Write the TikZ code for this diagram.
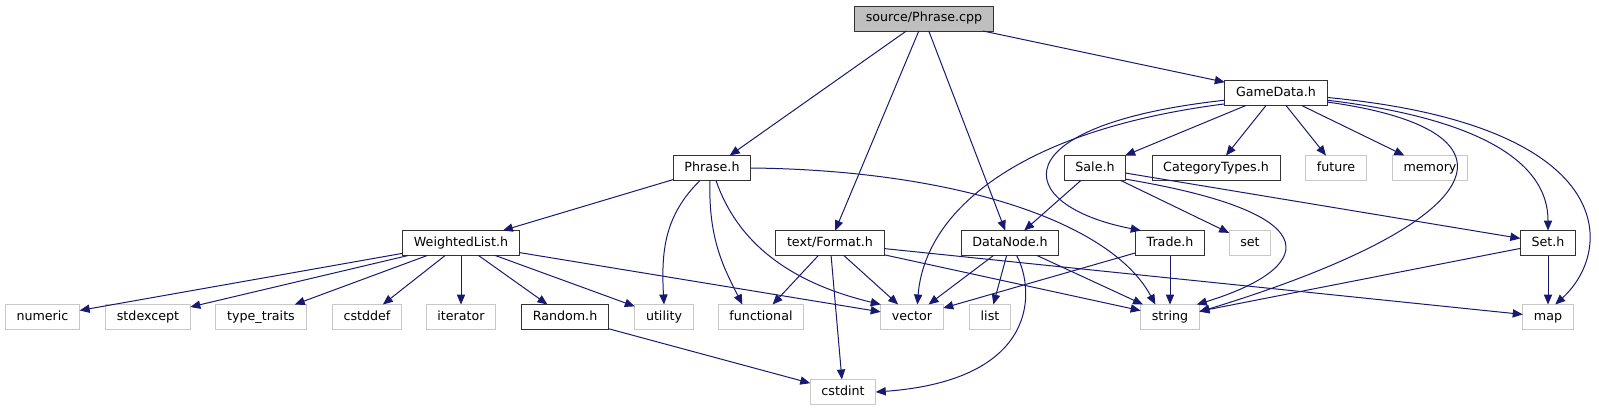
\documentclass[tikz,border=0pt]{standalone}
\usepackage{fontspec}
\setmainfont{DejaVu Sans}
\usetikzlibrary{arrows.meta,positioning}
\definecolor{edgeblue}{HTML}{191970}
\definecolor{rootfill}{HTML}{BFBFBF}
\definecolor{sysline}{HTML}{C8C8C8}
\tikzset{
  every node/.style = {rectangle, inner xsep=8.4pt, inner ysep=0pt, outer sep=0pt,
    minimum height=18.75pt, text height=7.1pt, text depth=2pt,
    font=\fontsize{9.5}{11}\selectfont, line width=0.75pt},
  root/.style = {draw=black!80, fill=rootfill},
  hdr/.style = {draw=black!80, fill=white},
  sys/.style = {draw=sysline, fill=white},
  arrow/.style = {-{Triangle[length=7.5pt,width=6.2pt]}, draw=edgeblue, line width=0.75pt}
}

\begin{document}
\begin{tikzpicture}[x=0.75pt, y=-0.75pt]
  \useasboundingbox (0,0) rectangle (1599,411);

  % top two rows
  \node[root] (src) at (924,18.5) {source/Phrase.cpp};
  \node[hdr] (gamedata) at (1276,93) {GameData.h};
  \node[hdr] (phrase) at (712,168) {Phrase.h};
  \node[hdr] (sale) at (1095,168) {Sale.h};
  \node[hdr] (cattypes) at (1216,168) {CategoryTypes.h};
  \node[sys] (future) at (1336,168) {future};
  \node[sys] (memory) at (1430,168) {memory};

  % middle row
  \node[hdr] (wlist) at (461,243) {WeightedList.h};
  \node[hdr] (format) at (830,243) {text/Format.h};
  \node[hdr] (datanode) at (1010,243) {DataNode.h};
  \node[hdr] (trade) at (1170,243) {Trade.h};
  \node[sys] (setstd) at (1250,243) {set};
  \node[hdr] (seth) at (1548,243) {Set.h};

  % bottom rows
  \node[sys] (numeric) at (42.5,317) {numeric};
  \node[sys] (stdexcept) at (148,317) {stdexcept};
  \node[sys] (typetraits) at (261,317) {type\_traits};
  \node[sys] (cstddef) at (367,317) {cstddef};
  \node[sys] (iterator) at (461,317) {iterator};
  \node[hdr] (random) at (565,317) {Random.h};
  \node[sys] (utility) at (664,317) {utility};
  \node[sys] (functional) at (761,317) {functional};
  \node[sys] (vector) at (912,317) {vector};
  \node[sys] (list) at (990,317) {list};
  \node[sys] (string) at (1170,317) {string};
  \node[sys] (map) at (1548,317) {map};
  \node[sys] (cstdint) at (843,392) {cstdint};

  % straight includes
  \foreach \a/\b in {src/phrase, src/format, src/datanode, src/gamedata,
      gamedata/sale, gamedata/cattypes, gamedata/future, gamedata/memory,
      phrase/wlist,
      wlist/numeric, wlist/stdexcept, wlist/typetraits, wlist/cstddef,
      wlist/iterator, wlist/random, wlist/utility, wlist/vector,
      random/cstdint,
      format/functional, format/vector, format/cstdint, format/string, format/map,
      datanode/vector, datanode/list, datanode/string,
      sale/datanode, sale/setstd, sale/seth,
      trade/vector, trade/string,
      seth/string, seth/map} {
    \draw[arrow] (\a) -- (\b);
  }

  % bent includes
  \draw[arrow] (gamedata.192) .. controls (1020,130) and (925,210) .. ([xshift=4pt]vector.north);
  \draw[arrow] (gamedata.188) .. controls (1000,125) and (1010,205) .. ([xshift=4pt]trade.north west);
  \draw[arrow] (gamedata.-10) .. controls (1530,130) and (1500,220) .. (string.10);
  \draw[arrow] (gamedata.-8) .. controls (1450,115) and (1548,150) .. (seth.north);
  \draw[arrow] (gamedata.-5) .. controls (1620,125) and (1615,250) .. (map.60);
  \draw[arrow] ([xshift=-9pt]phrase.south) .. controls (665,215) and (661,250) .. (utility.north);
  \draw[arrow] ([xshift=-1.5pt]phrase.south) .. controls (708,240) and (725,270) .. ([xshift=-14pt]functional.north);
  \draw[arrow] ([xshift=3pt]phrase.south) .. controls (740,250) and (800,285) .. (vector.north west);
  \draw[arrow] (phrase.east) .. controls (950,170) and (1110,220) .. ([xshift=-11pt]string.north);
  \draw[arrow] (sale.-20) .. controls (1340,215) and (1310,270) .. (string.25);
  \draw[arrow] ([xshift=5pt]datanode.south) .. controls (1035,290) and (1040,380) .. (cstdint.east);
\end{tikzpicture}
\end{document}
